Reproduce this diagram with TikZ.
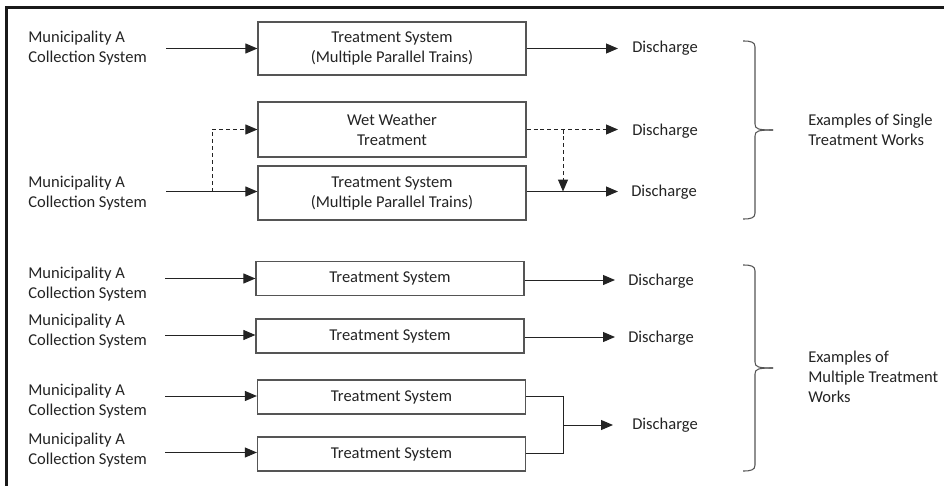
\documentclass[tikz,border=0pt]{standalone}
\usepackage{fontspec}
\setmainfont{Carlito}
\usetikzlibrary{arrows.meta}
\definecolor{ink}{RGB}{35,35,35}
\definecolor{boxline}{RGB}{85,85,85}
\tikzset{
  lbl/.style={anchor=west,align=left,inner sep=0pt,text=ink,font=\fontsize{12.4pt}{15pt}\selectfont},
  tbox/.style={draw=boxline,line width=0.9pt,inner sep=0pt,minimum width=201pt,align=center,text=ink,font=\fontsize{12.4pt}{15pt}\selectfont},
  arr/.style={draw=ink,line width=0.75pt,-{Triangle[length=9pt,width=7.5pt]}},
  dasharr/.style={arr,dash pattern=on 3pt off 2.2pt},
  plain/.style={draw=ink,line width=0.75pt},
  bracestyle/.style={draw=boxline,line width=0.8pt}
}
\begin{document}
\begin{tikzpicture}[x=0.75pt,y=-0.75pt]
\useasboundingbox (0,0) rectangle (944,485);
% frame
\draw[line width=1.6pt,draw=black!90] (6.5,487) -- (6.5,7.5) -- (946,7.5);

% ---- single treatment works ----
\node[lbl] (m1) at (28,48) {Municipality A\\Collection System};
\node[tbox,minimum height=39.75pt] (b1) at (392,48.5) {Treatment System\\(Multiple Parallel Trains)};
\node[lbl] (d1) at (632,48) {Discharge};
\coordinate (s1) at (166,48.5);
\coordinate (e1) at (618,48.5);
\draw[arr] (s1) -- (b1.west);
\draw[arr] (b1.east) -- (e1);

\node[tbox,minimum height=41.25pt] (b2) at (392,129.5) {Wet Weather\\Treatment};
\node[lbl] (d2) at (632,131) {Discharge};
\coordinate (e2) at (618,129.5);

\node[lbl] (m2) at (28,193) {Municipality A\\Collection System};
\node[tbox,minimum height=40.5pt] (b3) at (392,193) {Treatment System\\(Multiple Parallel Trains)};
\node[lbl] (d3) at (631,192) {Discharge};
\coordinate (s2) at (166,191.5);
\coordinate (e3) at (618,191.5);
\coordinate (sp) at (212,191.5);
\coordinate (jn) at (563,129.5);
\draw[arr] (s2) -- (s2 -| b3.west);
\draw[dasharr] (sp) |- (b2.west);
\draw[arr] (b3.east |- e3) -- (e3);
\draw[dasharr] (b2.east) -- (e2);
\draw[dasharr] (jn) -- (jn |- e3);

% brace 1
\draw[bracestyle] (743,41) .. controls (751,41) and (755,42) .. (755,47) -- (755,124) .. controls (755,129) and (758,130) .. (773,130);
\draw[bracestyle] (773,130) .. controls (758,130) and (755,131) .. (755,136) -- (755,213) .. controls (755,218) and (751,219) .. (743,219);
\node[lbl] (t1) at (808,130) {Examples of Single\\Treatment Works};

% ---- multiple treatment works ----
\node[lbl] (m3) at (28,284) {Municipality A\\Collection System};
\node[tbox,minimum height=25.5pt] (b4) at (390,278.5) {Treatment System};
\node[lbl] (d4) at (628,281) {Discharge};
\coordinate (s3) at (165,278.5);
\coordinate (e4) at (615,280);
\draw[arr] (s3) -- (b4.west);
\draw[arr] (b4.east |- e4) -- (e4);

\node[lbl] (m4) at (28,331) {Municipality A\\Collection System};
\node[tbox,minimum height=25.5pt] (b5) at (390,336) {Treatment System};
\node[lbl] (d5) at (628,338) {Discharge};
\coordinate (s4) at (165,335);
\coordinate (e5) at (615,337);
\draw[arr] (s4) -- (s4 -| b5.west);
\draw[arr] (b5.east |- e5) -- (e5);

\node[lbl] (m5) at (28,401) {Municipality A\\Collection System};
\node[tbox,minimum height=25.5pt] (b6) at (391.5,397) {Treatment System};
\node[lbl] (m6) at (28,450) {Municipality A\\Collection System};
\node[tbox,minimum height=25.5pt] (b7) at (391.5,454) {Treatment System};
\node[lbl] (d6) at (632,425) {Discharge};
\coordinate (s5) at (165,396);
\coordinate (s6) at (165,452.5);
\draw[arr] (s5) -- (s5 -| b6.west);
\draw[arr] (s6) -- (s6 -| b7.west);
\coordinate (mg) at (563,425);
\coordinate (e6) at (613,425);
\draw[plain] (b6.east |- 0,396) -| (mg) |- (b7.east |- 0,453);
\draw[arr] (mg) -- (e6);

% brace 2
\draw[bracestyle] (743,265) .. controls (751,265) and (755,266) .. (755,271) -- (755,362) .. controls (755,367) and (758,368) .. (773,368);
\draw[bracestyle] (773,368) .. controls (758,368) and (755,369) .. (755,374) -- (755,465) .. controls (755,470) and (751,471) .. (743,471);
\node[lbl] (t2) at (808,377) {Examples of\\Multiple Treatment\\Works};
\end{tikzpicture}
\end{document}
